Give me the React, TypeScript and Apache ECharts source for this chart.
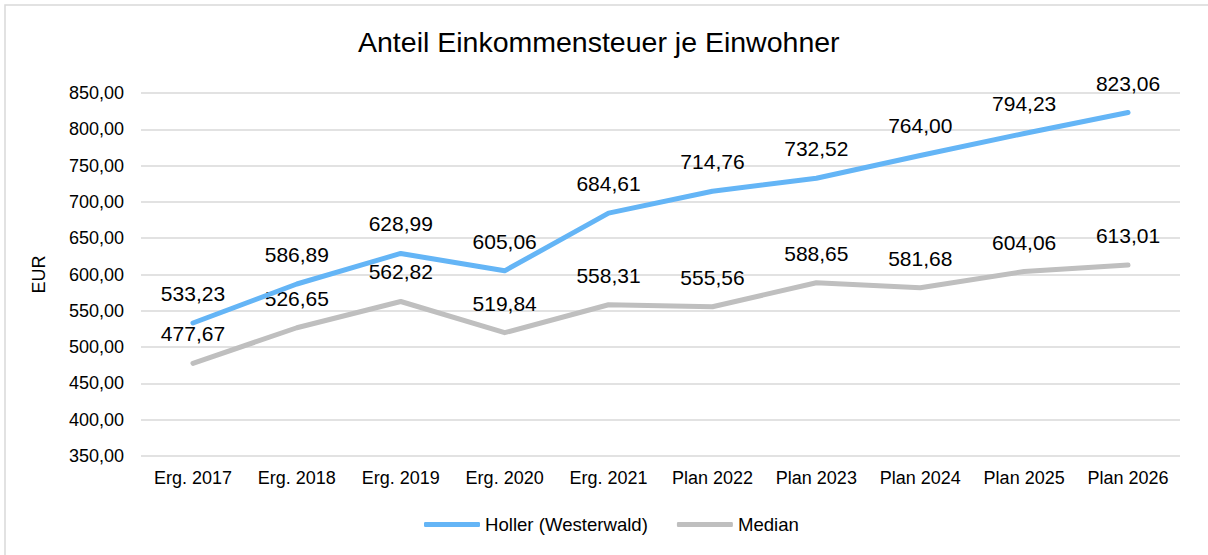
import React, { useEffect, useRef } from "react";
import * as echarts from "echarts";

const categories = [
  "Erg. 2017", "Erg. 2018", "Erg. 2019", "Erg. 2020", "Erg. 2021",
  "Plan 2022", "Plan 2023", "Plan 2024", "Plan 2025", "Plan 2026",
];
const hollerValues = [533.23, 586.89, 628.99, 605.06, 684.61, 714.76, 732.52, 764.0, 794.23, 823.06];
const medianValues = [477.67, 526.65, 562.82, 519.84, 558.31, 555.56, 588.65, 581.68, 604.06, 613.01];
const yMin = 350;
const yMax = 850;
const yStep = 50;

const FONT = "'Liberation Sans', Arial, sans-serif";
const fmt = (v: number) => v.toFixed(2).replace(".", ",");

export default function App() {
  const ref = useRef<HTMLDivElement>(null);
  useEffect(() => {
    if (!ref.current) return;
    const chart = echarts.init(ref.current, undefined, { renderer: "svg" });
    const labelCfg = {
      show: true,
      position: "top" as const,
      distance: 18.5,
      fontSize: 21,
      fontFamily: FONT,
      color: "#000",
      formatter: (p: any) => fmt(p.value),
    };
    chart.setOption({
      animation: false,
      backgroundColor: "#fff",
      textStyle: { fontFamily: FONT },
      graphic: [
        {
          type: "rect",
          shape: { x: 5, y: 5, width: 1215, height: 560 },
          style: { fill: "none", stroke: "#d9d9d9", lineWidth: 1.5 },
          silent: true,
        },
      ],
      title: {
        text: "Anteil Einkommensteuer je Einwohner",
        left: 358,
        top: 27,
        padding: 0,
        textStyle: { fontSize: 28.5, fontWeight: "normal", color: "#000", fontFamily: FONT },
      },
      legend: {
        left: 424,
        top: 515,
        padding: 0,
        icon: "roundRect",
        itemWidth: 56,
        itemHeight: 5,
        itemGap: 29,
        textStyle: { fontSize: 18.6, color: "#000", fontFamily: FONT },
        data: ["Holler (Westerwald)", "Median"],
      },
      grid: { left: 141, right: 28, top: 93, bottom: 99, containLabel: false },
      xAxis: {
        type: "category",
        data: categories,
        boundaryGap: true,
        axisLine: { show: false },
        axisTick: { show: false },
        axisLabel: { fontSize: 18, color: "#000", margin: 13, fontFamily: FONT, interval: 0 },
      },
      yAxis: {
        type: "value",
        min: yMin,
        max: yMax,
        interval: yStep,
        name: "EUR",
        nameLocation: "middle",
        nameRotate: 90,
        nameGap: 93,
        nameTextStyle: { fontSize: 18, color: "#000", fontFamily: FONT },
        axisLine: { show: false },
        axisTick: { show: false },
        splitLine: { lineStyle: { color: "#d9d9d9", width: 1.5 } },
        axisLabel: { fontSize: 18, color: "#000", margin: 17, fontFamily: FONT, formatter: (v: number) => fmt(v) },
      },
      series: [
        {
          name: "Holler (Westerwald)",
          type: "line",
          data: hollerValues,
          color: "#64b5f6",
          symbol: "circle",
          symbolSize: 1,
          lineStyle: { width: 5, color: "#64b5f6", cap: "round", join: "round" },
          label: labelCfg,
          z: 3,
        },
        {
          name: "Median",
          type: "line",
          data: medianValues,
          color: "#bfbfbf",
          symbol: "circle",
          symbolSize: 1,
          lineStyle: { width: 5, color: "#bfbfbf", cap: "round", join: "round" },
          label: labelCfg,
          z: 2,
        },
      ],
    });
    return () => chart.dispose();
  }, []);
  return (
    <div
      ref={ref}
      style={{ position: "absolute", left: 0, top: 0, width: 1208, height: 555 }}
    />
  );
}
